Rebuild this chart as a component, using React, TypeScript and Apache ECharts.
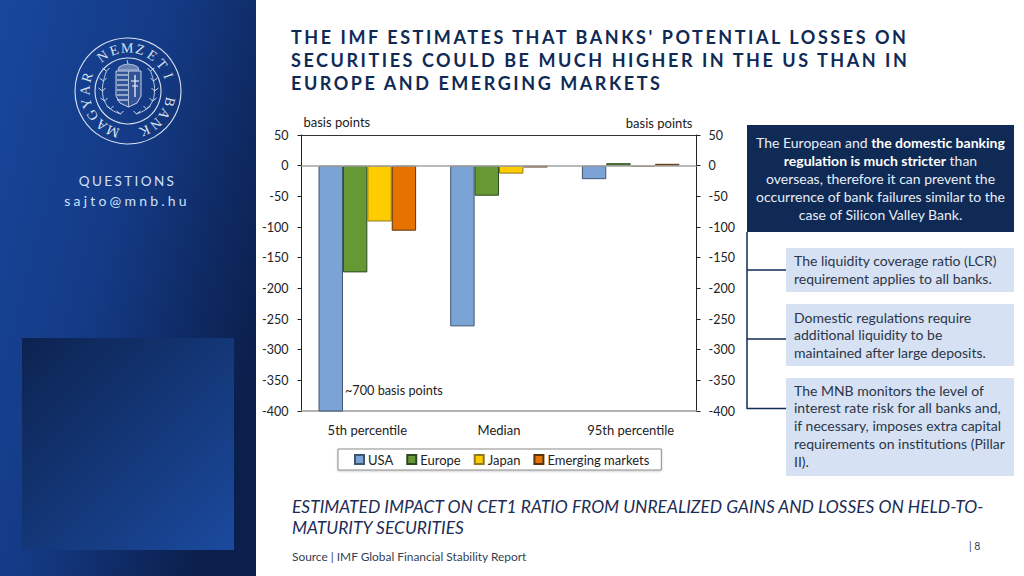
import React, { useEffect, useRef } from "react";
import * as echarts from "echarts";

const categories = ["5th percentile", "Median", "95th percentile"];
const usa = [-700, -262, -22];
const europe = [-174, -49, 4];
const japan = [-91, -13, -2];
const emerging = [-106, -3, 3];
const yMin = -400;
const yMax = 50;
const yStep = 50;

const titleLines = [
  "THE IMF ESTIMATES THAT BANKS' POTENTIAL LOSSES ON",
  "SECURITIES COULD BE MUCH HIGHER IN THE US THAN IN",
  "EUROPE AND EMERGING MARKETS",
];
const subtitleLines = [
  "ESTIMATED IMPACT ON CET1 RATIO FROM UNREALIZED GAINS AND LOSSES ON HELD-TO-",
  "MATURITY SECURITIES",
];
const sealLetters = "MAGYAR NEMZETI BANK";
const FONT = "Lato";
const NAVY = "#0f2a55";
const INK = "#1f2a3a";

function sealElements(): any[] {
  const cx = 128;
  const cy = 91;
  const c = "#dbe4f2";
  const out: any[] = [
    { type: "circle", shape: { cx, cy, r: 53 }, style: { fill: "none", stroke: c, lineWidth: 1.1 } },
    { type: "circle", shape: { cx, cy, r: 33 }, style: { fill: "none", stroke: c, lineWidth: 1.1 } },
  ];
  const start = 200.5;
  const step = 17.6;
  sealLetters.split("").forEach((ch, i) => {
    if (ch === " ") return;
    const a = ((start + step * i) * Math.PI) / 180;
    out.push({
      type: "text",
      x: cx + 43 * Math.sin(a),
      y: cy - 43 * Math.cos(a),
      rotation: -a,
      style: { text: ch, x: 0, y: 0, align: "center", verticalAlign: "middle", fill: c, fontFamily: "Liberation Serif", fontSize: 14 },
    });
  });
  // coat of arms
  out.push({
    type: "polygon",
    shape: { points: [[116, 71], [141, 71], [141, 96], [137, 103], [128.5, 107], [120, 103], [116, 96]] },
    style: { fill: "rgba(225,232,244,0.14)", stroke: "#c9d4e8", lineWidth: 1 },
  });
  [75, 80, 85, 90, 95, 100].forEach((y) =>
    out.push({ type: "line", shape: { x1: 117, y1: y, x2: 128, y2: y }, style: { stroke: "#c9d4e8", lineWidth: 1.6, opacity: 0.8 } })
  );
  out.push({ type: "line", shape: { x1: 128.5, y1: 71, x2: 128.5, y2: 107 }, style: { stroke: "#c9d4e8", lineWidth: 0.8 } });
  out.push({ type: "line", shape: { x1: 135, y1: 75, x2: 135, y2: 97 }, style: { stroke: "#dfe6f2", lineWidth: 1.4 } });
  out.push({ type: "line", shape: { x1: 131, y1: 81, x2: 139, y2: 81 }, style: { stroke: "#dfe6f2", lineWidth: 1.2 } });
  out.push({ type: "line", shape: { x1: 132, y1: 86, x2: 138, y2: 86 }, style: { stroke: "#dfe6f2", lineWidth: 1.2 } });
  out.push({
    type: "polygon",
    shape: { points: [[118, 70], [119, 67], [123, 65], [128, 64], [134, 65], [138, 67], [139, 70]] },
    style: { fill: "rgba(225,232,244,0.4)", stroke: "#c9d4e8", lineWidth: 0.8 },
  });
  out.push({ type: "line", shape: { x1: 128, y1: 64, x2: 127, y2: 60 }, style: { stroke: "#c9d4e8", lineWidth: 1 } });
  // wreath
  [-1, 1].forEach((side) => {
    const pts = [[22, -20], [25, -10], [26, 0], [24, 10], [18, 18], [8, 23]];
    out.push({
      type: "polyline",
      shape: { points: pts.map(([x, y]) => [128.5 + side * x, 91 + y]), smooth: 0.4 },
      style: { fill: "none", stroke: "#cdd8ea", lineWidth: 0.9 },
    });
    pts.forEach(([x, y]) => {
      out.push({ type: "line", shape: { x1: 128.5 + side * x, y1: 91 + y, x2: 128.5 + side * (x + 4), y2: 91 + y - 3 }, style: { stroke: "#cdd8ea", lineWidth: 1 } });
      out.push({ type: "line", shape: { x1: 128.5 + side * x, y1: 91 + y, x2: 128.5 + side * (x - 3), y2: 91 + y - 3 }, style: { stroke: "#cdd8ea", lineWidth: 1 } });
    });
  });
  return out;
}

function text(t: string, x: number, y: number, o: any = {}) {
  return {
    type: "text",
    style: { text: t, x, y, fill: INK, fontFamily: FONT, fontSize: 13, verticalAlign: "middle", ...o },
  };
}

function boxLines(lines: string[], x: number, firstY: number, lh: number) {
  return lines.map((l, i) => text(l, x, firstY + i * lh, { fontSize: 14, fill: "#2b3648" }));
}

function conn(x1: number, y1: number, x2: number, y2: number) {
  return { type: "line", shape: { x1, y1, x2, y2 }, style: { stroke: NAVY, lineWidth: 1.5 } };
}

export default function App() {
  const ref = useRef<HTMLDivElement>(null);
  useEffect(() => {
    document.body.style.margin = "0";
    const chart = echarts.init(ref.current!, undefined, { renderer: "svg" });
    const bar = (name: string, data: number[], color: string, border: string, extra: any = {}) => ({
      name,
      type: "bar",
      data,
      barGap: 0,
      barCategoryGap: "25.9%",
      itemStyle: { color, borderColor: border, borderWidth: 1 },
      ...extra,
    });
    chart.setOption({
      animation: false,
      backgroundColor: "#ffffff",
      textStyle: { fontFamily: FONT },
      grid: { left: 301.5, top: 135, width: 395, height: 276, containLabel: false },
      legend: {
        left: 338,
        top: 449,
        padding: [4, 12, 4, 16],
        itemGap: 13,
        itemWidth: 9,
        itemHeight: 9,
        icon: "rect",
        borderColor: "#8c8c8c",
        borderWidth: 1,
        shadowColor: "rgba(0,0,0,0.2)",
        shadowBlur: 2,
        shadowOffsetY: 1,
        backgroundColor: "#fff",
        textStyle: { fontFamily: FONT, fontSize: 13, color: "#222", padding: [0, 0, 0, -1] },
      },
      xAxis: [
        {
          type: "category",
          data: categories,
          position: "bottom",
          axisLine: { onZero: false, lineStyle: { color: "#9a9a9a", width: 1.5 } },
          axisTick: { show: false },
          axisLabel: { margin: 12, fontFamily: FONT, fontSize: 13, color: "#222" },
        },
        {
          type: "category",
          data: categories,
          position: "top",
          axisLine: { onZero: false, lineStyle: { color: "#333", width: 1 } },
          axisTick: { show: false },
          axisLabel: { show: false },
        },
      ],
      yAxis: [
        {
          type: "value",
          min: yMin,
          max: yMax,
          interval: yStep,
          position: "left",
          name: "basis points",
          nameLocation: "end",
          nameGap: 7,
          nameTextStyle: { fontFamily: FONT, fontSize: 13, color: "#222", align: "left", padding: [0, 0, 0, 2] },
          axisLine: { show: true, onZero: false, lineStyle: { color: "#222" } },
          axisTick: { show: true, length: 4, lineStyle: { color: "#222" } },
          axisLabel: { margin: 13, fontFamily: FONT, fontSize: 12.5, color: "#222" },
          splitLine: { show: false },
        },
        {
          type: "value",
          min: yMin,
          max: yMax,
          interval: yStep,
          position: "right",
          name: "basis points",
          nameLocation: "end",
          nameGap: 6,
          nameTextStyle: { fontFamily: FONT, fontSize: 13, color: "#222", align: "right", padding: [0, 4, 0, 0] },
          axisLine: { show: true, onZero: false, lineStyle: { color: "#222" } },
          axisTick: { show: true, length: 4, lineStyle: { color: "#222" } },
          axisLabel: { margin: 12, fontFamily: FONT, fontSize: 12.5, color: "#222" },
          splitLine: { show: false },
        },
      ],
      series: [
        bar("USA", usa, "#7ba3d6", "#3f5670", {
          markLine: {
            silent: true,
            symbol: ["none", "none"],
            label: { show: false },
            lineStyle: { color: "#a3a3a3", width: 1.5, type: "solid" },
            data: [{ yAxis: 0 }],
          },
        }),
        bar("Europe", europe, "#669933", "#2f4a22"),
        bar("Japan", japan, "#ffcc00", "#8f7a20"),
        bar("Emerging markets", emerging, "#e67300", "#5a3210"),
      ],
      graphic: {
        elements: [
          {
            type: "rect",
            shape: { x: 0, y: 0, width: 256, height: 576 },
            style: {
              fill: new echarts.graphic.LinearGradient(0, 0, 1, 0.6, [
                { offset: 0, color: "#17479c" },
                { offset: 0.5, color: "#143a85" },
                { offset: 1, color: "#0b1f4c" },
              ]),
            },
          },
          {
            type: "rect",
            shape: { x: 22, y: 338, width: 212, height: 212 },
            style: {
              fill: new echarts.graphic.LinearGradient(0, 0, 1, 1, [
                { offset: 0, color: "#0c2350" },
                { offset: 1, color: "#1b4a9e" },
              ]),
            },
          },
          ...sealElements(),
          text("QUESTIONS", 127.5, 180.5, { align: "center", fill: "#cfe0fa", fontSize: 13.5 }),
          text("sajto@mnb.hu", 127, 200, { align: "center", fill: "#cfe0fa", fontSize: 14 }),
          ...titleLines.map((l, i) =>
            text(l, 291, 36.5 + i * 23, { fill: NAVY, fontWeight: "bold", fontSize: 18 })
          ),
          text("~700 basis points", 345, 390, { fontSize: 12.7, fill: "#222" }),
          { type: "rect", shape: { x: 747, y: 125, width: 267, height: 107 }, style: { fill: NAVY } },
          {
            type: "text",
            style: {
              text:
                "The European and {b|the domestic banking}\n{b|regulation is much stricter} than\noverseas, therefore it can prevent the\noccurrence of bank failures similar to the\ncase of Silicon Valley Bank.",
              x: 880.5,
              y: 178,
              align: "center",
              verticalAlign: "middle",
              fill: "#e8eef7",
              fontFamily: FONT,
              fontSize: 14,
              lineHeight: 18,
              rich: {
                b: { fontWeight: "bold", fill: "#ffffff", fontFamily: FONT, fontSize: 14, lineHeight: 18 },
              },
            },
          },
          conn(747, 232, 747, 409),
          conn(747, 270, 786, 270),
          conn(747, 339, 786, 339),
          conn(747, 408.5, 786, 408.5),
          { type: "rect", shape: { x: 786, y: 248, width: 228, height: 44 }, style: { fill: "#d6e1f3" } },
          { type: "rect", shape: { x: 786, y: 304, width: 228, height: 62 }, style: { fill: "#d6e1f3" } },
          { type: "rect", shape: { x: 786, y: 378, width: 228, height: 98 }, style: { fill: "#d6e1f3" } },
          ...boxLines(["The liquidity coverage ratio (LCR)", "requirement applies to all banks."], 794, 260, 18),
          ...boxLines(["Domestic regulations require", "additional liquidity to be", "maintained after large deposits."], 794, 317, 17.7),
          ...boxLines(
            ["The MNB monitors the level of", "interest rate risk for all banks and,", "if necessary, imposes extra capital", "requirements on institutions (Pillar", "II)."],
            794,
            390,
            17.8
          ),
          ...subtitleLines.map((l, i) =>
            text(l, 292, 506.5 + i * 21, { fontStyle: "italic", fontSize: 17.4, fill: "#1c2c55" })
          ),
          text("Source | IMF Global Financial Stability Report", 292, 556, { fontSize: 11.9, fill: "#333f55" }),
          text("| 8", 969, 546, { fontSize: 10.5, fill: "#333f55" }),
        ],
      },
    });
    const spacing: Record<string, string> = {
      QUESTIONS: "2.4px",
      "sajto@mnb.hu": "3.2px",
    };
    titleLines.forEach((l) => (spacing[l] = "2.55px"));
    const apply = () => {
      ref.current?.querySelectorAll("text").forEach((el) => {
        const s = spacing[el.textContent || ""];
        if (s) (el as any).style.letterSpacing = s;
      });
    };
    apply();
    chart.on("finished", apply);
    return () => chart.dispose();
  }, []);
  return <div ref={ref} style={{ width: 1024, height: 576 }} />;
}
